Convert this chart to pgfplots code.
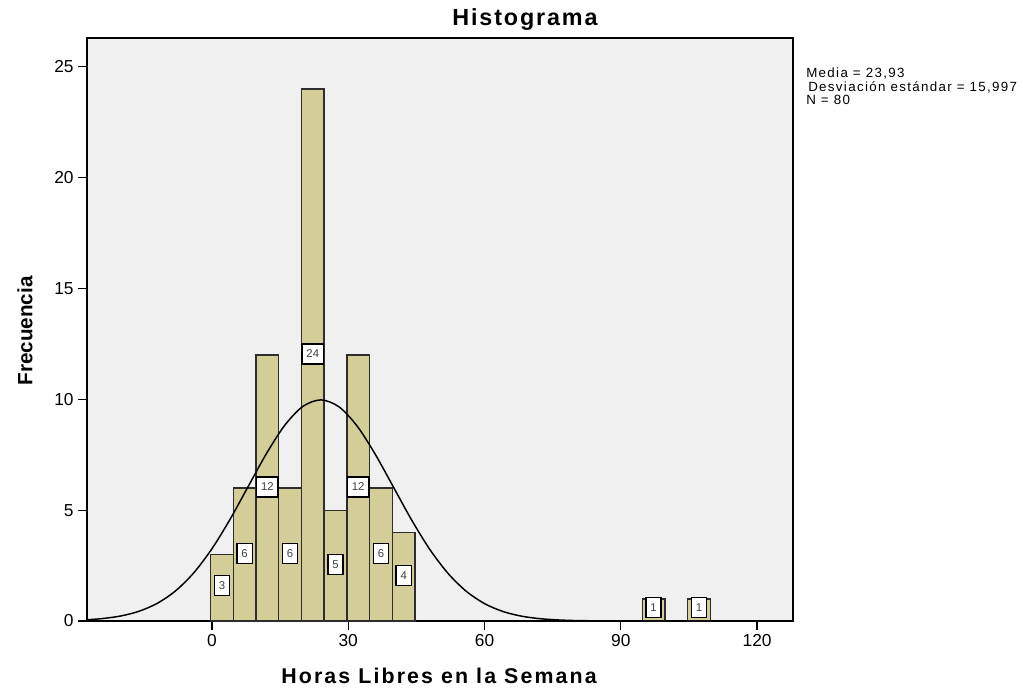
\documentclass[border=0pt]{standalone}
\usepackage{pgfplots}
\pgfplotsset{compat=1.18}
\usepackage{fontspec}
\setmainfont{Liberation Sans}
\newfontfamily\titlefont[LetterSpace=8]{Liberation Sans}
\newfontfamily\xlabfont[LetterSpace=10]{Liberation Sans}
\newfontfamily\statfont[LetterSpace=10]{Liberation Sans}
\definecolor{bgray}{RGB}{240,240,240}
\definecolor{barfill}{RGB}{211,206,152}
\definecolor{baredge}{RGB}{45,45,45}
\begin{document}
\begin{tikzpicture}
\path[use as bounding box] (-65.25pt,-49.5pt) rectangle (702pt,465.75pt);
\begin{axis}[
  at={(0pt,0pt)}, anchor=south west,
  scale only axis,
  width=529.5pt, height=437.25pt,
  xmin=-27.5, xmax=127.9,
  ymin=0, ymax=26.3,
  xtick={0,30,60,90,120},
  ytick={0,5,10,15,20,25},
  xtick pos=bottom, ytick pos=left,
  tick align=outside,
  major tick length=6.5pt,
  tick style={black, line width=1pt},
  axis line style={black, line width=1.1pt},
  axis background/.style={fill=bgray},
  tick label style={font=\fontsize{13}{15}\selectfont},
  /pgf/number format/assume math mode=true,
  clip=false,
]
\addplot[ybar, bar width=5, bar shift=0, fill=barfill, draw=baredge, line width=1pt]
  coordinates {(2.2,3) (7.2,6) (12.2,12) (17.2,6) (22.2,24) (27.2,5) (32.2,12) (37.2,6) (42.2,4) (97.2,1) (107.2,1)};
\addplot[black, line width=1.1pt, smooth, mark=none] coordinates {
(-27.5,0.057) (-24,0.112) (-20,0.230) (-16,0.443) (-12,0.801) (-8,1.361) (-4,2.173)
(0,3.259) (4,4.591) (8,6.076) (12,7.553) (16,8.822) (20,9.679) (24,9.975)
(28,9.657) (32,8.783) (36,7.503) (40,6.023) (44,4.541) (48,3.216) (52,2.140)
(56,1.337) (60,0.785) (64,0.433) (68,0.224) (72,0.109) (76,0.050) (80,0.021)
(86,0.006) (94,0.001) (105,0) (127.9,0)};
\addplot[draw=none, mark=none, nodes near coords, point meta=explicit symbolic,
  every node near coord/.style={anchor=center, draw=black, fill=white, line width=1pt,
    font=\fontsize{8.5}{9}\selectfont, inner xsep=3.3pt, inner ysep=2pt, minimum height=15pt, text=black!75}]
  coordinates {(2.2,1.6)[3] (7.2,3.05)[6] (12.2,6.05)[12] (17.2,3.05)[6] (22.2,12.05)[24]
  (27.2,2.55)[5] (32.2,6.05)[12] (37.2,3.05)[6] (42.2,2.05)[4] (97.2,0.6)[1] (107.2,0.6)[1]};
\end{axis}
\node[font=\titlefont\bfseries\fontsize{17.5}{19}\selectfont] at (328.5pt,450.75pt) {Histograma};
\node[font=\xlabfont\bfseries\fontsize{16}{18}\selectfont] at (264pt,-41.25pt) {Horas Libres en la Semana};
\node[font=\bfseries\fontsize{15.5}{17}\selectfont, rotate=90] at (-46.5pt,217.5pt) {Frecuencia};
\node[anchor=north west, align=left, font=\statfont\fontsize{10}{10}\selectfont, inner sep=0pt] at (539.25pt,415pt)
  {Media = 23,93\\[0.2pt]\hspace{1.5pt}Desviación estándar = 15,997\\[-0.2pt]N = 80};
\end{tikzpicture}
\end{document}
